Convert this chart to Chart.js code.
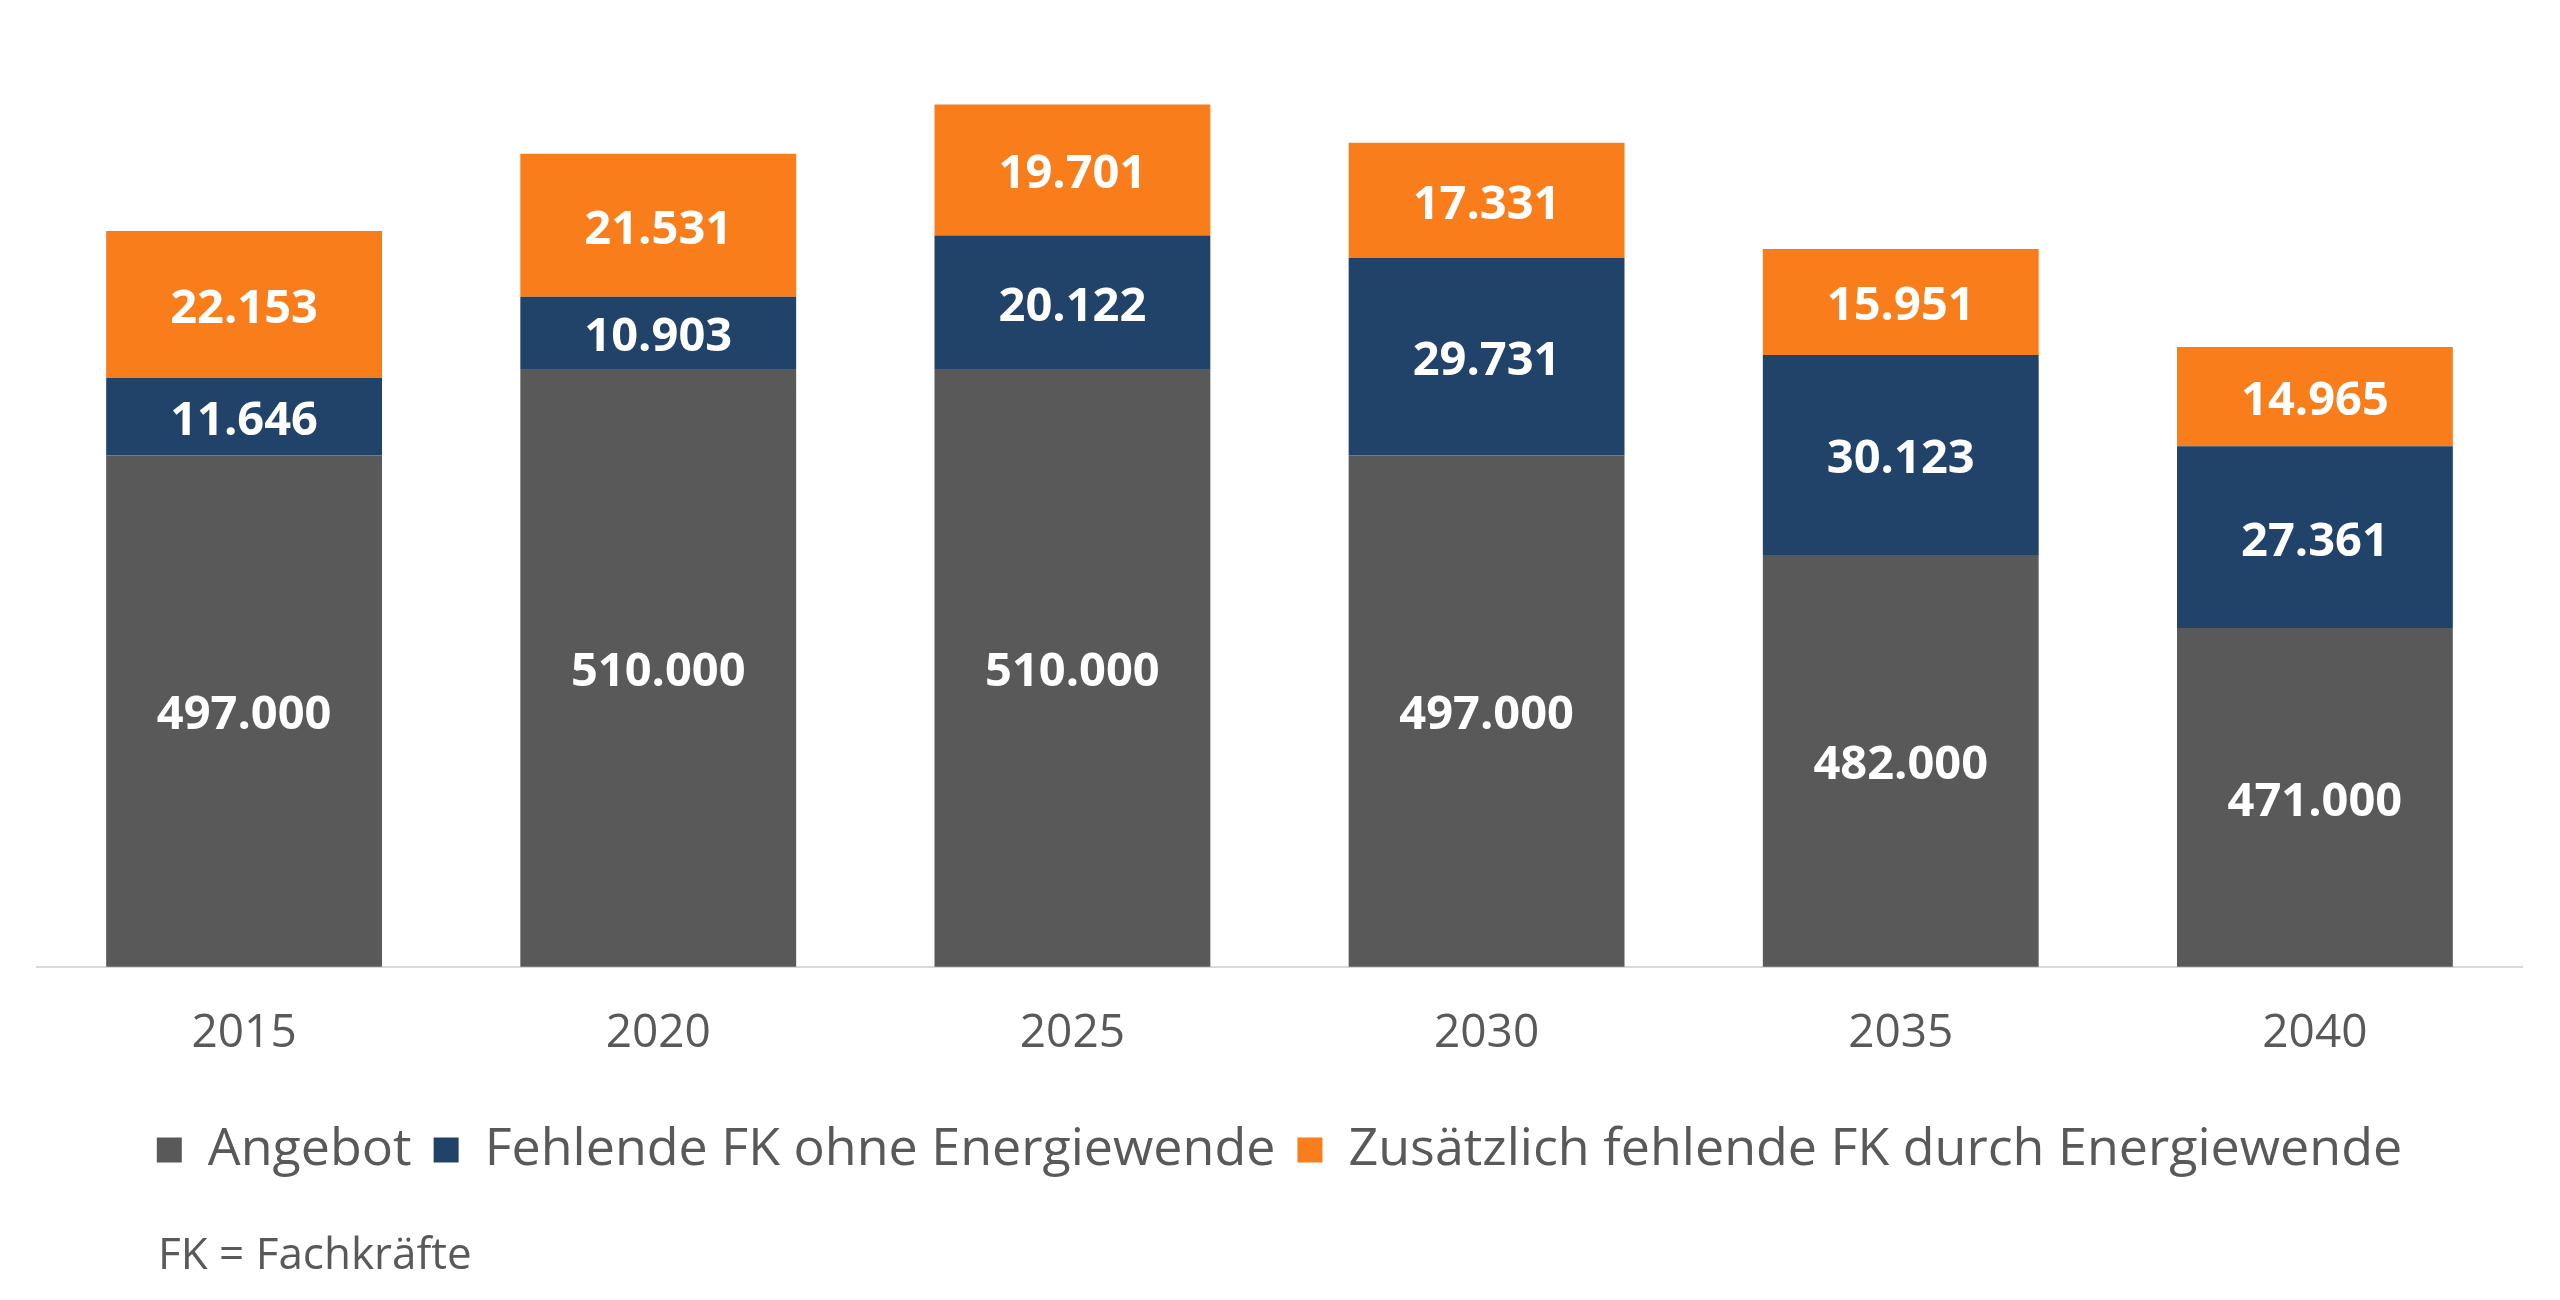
<!DOCTYPE html>
<html>
<head>
<meta charset="utf-8">
<script src="https://cdn.jsdelivr.net/npm/chart.js@4.4.1/dist/chart.umd.min.js"></script>
<style>
  html, body { margin: 0; padding: 0; background: #ffffff; }
  #wrap { position: relative; width: 2560px; height: 1300px; overflow: hidden; }
  #c { position: absolute; left: 0; top: 0; }
  #footnote { position: absolute; left: 158px; top: 1226px; font-family: "Open Sans", sans-serif; font-size: 44px; line-height: 52px; color: #595959; white-space: nowrap; }
</style>
</head>
<body>
<div id="wrap">
  <canvas id="c" width="2560" height="1300"></canvas>
  <div id="footnote"></div>
</div>
<script>
// ---- data ----
const categories = ['2015', '2020', '2025', '2030', '2035', '2040'];
const angebot = [497000, 510000, 510000, 497000, 482000, 471000];
const fehlendeOhne = [11646, 10903, 20122, 29731, 30123, 27361];
const zusaetzlich = [22153, 21531, 19701, 17331, 15951, 14965];
const seriesNames = ['Angebot', 'Fehlende FK ohne Energiewende', 'Zusätzlich fehlende FK durch Energiewende'];
const footnoteText = 'FK = Fachkräfte';
const yMin = 420000;
const yMax = 560000;

// ---- style ----
const colors = ['#595959', '#21436A', '#FA7D1C'];
const textColor = '#595959';

document.getElementById('footnote').textContent = footnoteText;

function fmtDE(v) {
  return String(Math.round(v)).replace(/\B(?=(\d{3})+(?!\d))/g, '.');
}

const segLabels = {
  id: 'segLabels',
  afterDatasetsDraw(chart) {
    const ctx = chart.ctx;
    const area = chart.chartArea;
    ctx.save();
    ctx.font = 'bold 47px "Open Sans"';
    ctx.fillStyle = '#ffffff';
    ctx.textAlign = 'center';
    ctx.textBaseline = 'middle';
    chart.data.datasets.forEach((ds, di) => {
      const meta = chart.getDatasetMeta(di);
      meta.data.forEach((bar, i) => {
        const top = Math.max(Math.min(bar.y, bar.base), area.top);
        const bottom = Math.min(Math.max(bar.y, bar.base), area.bottom);
        ctx.fillText(fmtDE(ds.data[i]), bar.x, (top + bottom) / 2 + 5);
      });
    });
    ctx.restore();
  }
};

new Chart(document.getElementById('c'), {
  type: 'bar',
  data: {
    labels: categories,
    datasets: [
      { label: seriesNames[0], data: angebot, backgroundColor: colors[0] },
      { label: seriesNames[1], data: fehlendeOhne, backgroundColor: colors[1] },
      { label: seriesNames[2], data: zusaetzlich, backgroundColor: colors[2] }
    ]
  },
  options: {
    responsive: false,
    devicePixelRatio: 1,
    animation: false,
    datasets: { bar: { categoryPercentage: 1.0, barPercentage: 0.666, borderWidth: 0 } },
    layout: { padding: { left: 37, right: 38, top: 37, bottom: 114 } },
    scales: {
      x: {
        stacked: true,
        grid: { display: false, drawTicks: false },
        border: { display: true, color: '#d9d9d9', width: 2 },
        ticks: { color: textColor, font: { family: 'Open Sans', size: 46 }, padding: 39 },
        afterFit(scale) { scale.height += 2; }
      },
      y: {
        stacked: true,
        display: false,
        min: yMin,
        max: yMax
      }
    },
    plugins: {
      legend: {
        position: 'bottom',
        labels: {
          color: textColor,
          font: { family: 'Open Sans', size: 52 },
          boxWidth: 25,
          boxHeight: 25,
          padding: 22
        }
      },
      tooltip: { enabled: false }
    }
  },
  plugins: [segLabels]
});
</script>
</body>
</html>
